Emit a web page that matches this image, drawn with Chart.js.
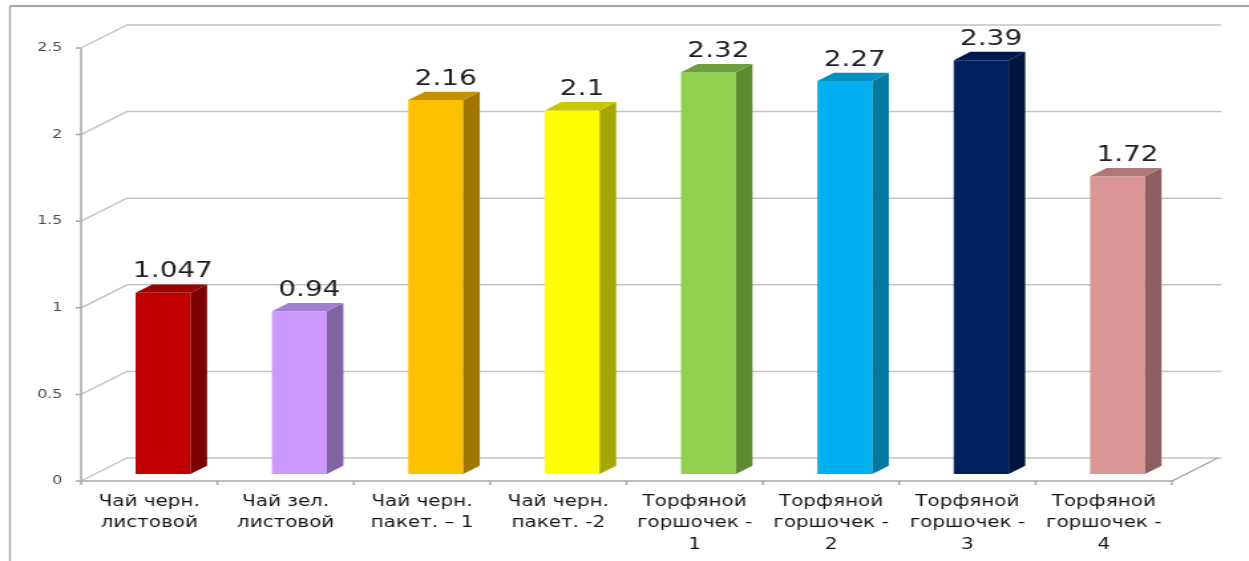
<!DOCTYPE html>
<html>
<head>
<meta charset="utf-8">
<script src="https://cdn.jsdelivr.net/npm/chart.js@4.4.1/dist/chart.umd.min.js"></script>
<style>
  html, body { margin: 0; padding: 0; background: #fff; overflow: hidden; }
  /* the chart is drawn at 940px and widened to fill 1249px */
  #wrap { width: 940px; height: 561px; transform: scaleX(1.3287); transform-origin: 0 0; }
  #chart { display: block; }
</style>
</head>
<body>
<div id="wrap"><canvas id="chart" width="940" height="561"></canvas></div>
<script>
const categories = [
  ["Чай черн.", "листовой"],
  ["Чай зел.", "листовой"],
  ["Чай черн.", "пакет. – 1"],
  ["Чай черн.", "пакет. -2"],
  ["Торфяной", "горшочек -", "1"],
  ["Торфяной", "горшочек -", "2"],
  ["Торфяной", "горшочек -", "3"],
  ["Торфяной", "горшочек -", "4"]
];
const values = [1.047, 0.94, 2.16, 2.1, 2.32, 2.27, 2.39, 1.72];
const yTicks = [0, 0.5, 1, 1.5, 2, 2.5];

const frontColors = ["#C00000", "#CC99FF", "#FFC000", "#FFFF00", "#92D050", "#00B0F0", "#002060", "#D99694"];
const sideColors  = ["#7A0000", "#8064A2", "#A07800", "#A6A600", "#5E8A32", "#0078A0", "#001440", "#8C5E5E"];
const topColors   = ["#9C0000", "#A27ED0", "#C49200", "#C8C800", "#6E9E3C", "#0090C0", "#001850", "#AE7878"];

// depth of the 3D box (wall offset) and where the bars sit inside it
const DEPTH_X = 34.6, DEPTH_Y = -23;
const BAR_FRONT = 0.3, BAR_BACK = 0.66;

const box3d = {
  id: "box3d",
  beforeDraw(chart) {
    const ctx = chart.ctx;
    ctx.save();
    ctx.strokeStyle = "#a6a6a6";
    ctx.lineWidth = 2;
    ctx.beginPath();
    ctx.moveTo(7.5, 6);
    ctx.lineTo(chart.width + 5, 6);
    ctx.stroke();
    ctx.lineWidth = 1.5;
    ctx.beginPath();
    ctx.moveTo(7.5, 6);
    ctx.lineTo(7.5, chart.height + 5);
    ctx.stroke();
    ctx.restore();
  },
  beforeDatasetsDraw(chart) {
    const { ctx, chartArea: a, scales: { x, y } } = chart;
    const y0 = y.getPixelForValue(0);
    const yTop = y.getPixelForValue(yTicks[yTicks.length - 1]);
    ctx.save();
    // side wall diagonals + back wall gridlines
    ctx.lineWidth = 1.5;
    ctx.strokeStyle = "#c4c4c4";
    yTicks.forEach(v => {
      const py = y.getPixelForValue(v);
      ctx.beginPath();
      ctx.moveTo(a.left, py);
      ctx.lineTo(a.left + DEPTH_X, py + DEPTH_Y);
      ctx.lineTo(a.right + DEPTH_X + 3, py + DEPTH_Y);
      ctx.stroke();
    });
    // front axes and floor edge
    ctx.strokeStyle = "#a6a6a6";
    ctx.beginPath();
    ctx.moveTo(a.left, yTop);
    ctx.lineTo(a.left, y0);
    ctx.lineTo(a.right, y0);
    ctx.lineTo(a.right + DEPTH_X, y0 + DEPTH_Y);
    ctx.stroke();
    // tick marks
    ctx.beginPath();
    yTicks.forEach(v => {
      const py = y.getPixelForValue(v);
      ctx.moveTo(a.left - 4, py);
      ctx.lineTo(a.left, py);
    });
    for (let i = 0; i <= categories.length; i++) {
      const px = x.getPixelForValue(i - 0.5);
      ctx.moveTo(px, y0);
      ctx.lineTo(px, y0 + 4);
    }
    ctx.stroke();
    ctx.restore();

    // bars stand inside the box, shifted back along the depth axis
    ctx.save();
    ctx.translate(DEPTH_X * BAR_FRONT, DEPTH_Y * BAR_FRONT);
  },
  afterDatasetsDraw(chart) {
    const ctx = chart.ctx;
    const bdx = DEPTH_X * (BAR_BACK - BAR_FRONT);
    const bdy = DEPTH_Y * (BAR_BACK - BAR_FRONT);
    chart.getDatasetMeta(0).data.forEach((bar, i) => {
      const { x: cx, y: top, base, width } = bar.getProps(["x", "y", "base", "width"], true);
      const l = cx - width / 2, r = cx + width / 2;
      ctx.fillStyle = sideColors[i];
      ctx.beginPath();
      ctx.moveTo(r, top);
      ctx.lineTo(r + bdx, top + bdy);
      ctx.lineTo(r + bdx, base + bdy);
      ctx.lineTo(r, base);
      ctx.closePath();
      ctx.fill();
      ctx.fillStyle = topColors[i];
      ctx.beginPath();
      ctx.moveTo(l, top);
      ctx.lineTo(r, top);
      ctx.lineTo(r + bdx, top + bdy);
      ctx.lineTo(l + bdx, top + bdy);
      ctx.closePath();
      ctx.fill();

      ctx.fillStyle = "#1f1f1f";
      ctx.font = '21px "DejaVu Sans"';
      ctx.textAlign = "center";
      ctx.textBaseline = "alphabetic";
      ctx.fillText(String(values[i]), cx + bdx * 0.6, top + bdy - 7);
    });
    ctx.restore();
  }
};

new Chart(document.getElementById("chart"), {
  type: "bar",
  data: {
    labels: categories,
    datasets: [{
      data: values,
      backgroundColor: frontColors,
      borderWidth: 0,
      barPercentage: 0.403,
      categoryPercentage: 1,
      clip: false
    }]
  },
  options: {
    responsive: false,
    animation: false,
    devicePixelRatio: 1,
    layout: { padding: { left: 0, right: 58, top: 48, bottom: 0 } },
    plugins: { legend: { display: false }, tooltip: { enabled: false } },
    scales: {
      x: {
        grid: { display: false, drawTicks: false },
        border: { display: false },
        ticks: {
          color: "#141414",
          font: { family: "'DejaVu Sans'", size: 15, lineHeight: 1.43 },
          padding: 10,
          maxRotation: 0,
          autoSkip: false
        },
        afterFit: s => { s.height = 80; }
      },
      y: {
        min: 0,
        max: 2.5,
        grid: { display: false, drawTicks: false },
        border: { display: false },
        ticks: {
          stepSize: 0.5,
          color: "#4a4a4a",
          font: { family: "'DejaVu Sans'", size: 12 },
          padding: 14,
          callback: v => String(v)
        },
        afterFit: s => { s.width = 61; }
      }
    }
  },
  plugins: [box3d]
});
</script>
</body>
</html>
